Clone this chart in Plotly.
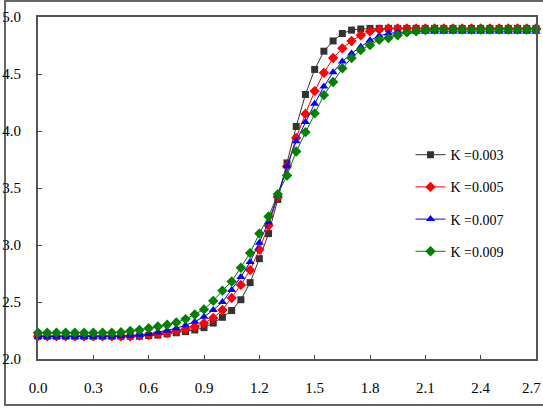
import plotly.graph_objects as go

x_vals = [round(0.05 * i, 2) for i in range(55)]
x_ticks = [0.0, 0.3, 0.6, 0.9, 1.2, 1.5, 1.8, 2.1, 2.4, 2.7]
y_ticks = [2.0, 2.5, 3.0, 3.5, 4.0, 4.5, 5.0]

k003 = [2.20, 2.20, 2.20, 2.20, 2.20, 2.20, 2.20, 2.20, 2.20, 2.20,
        2.20, 2.20, 2.205, 2.21, 2.22, 2.23, 2.24, 2.255, 2.275, 2.315,
        2.366, 2.425, 2.52, 2.67, 2.88, 3.10, 3.40, 3.72, 4.04, 4.32,
        4.54, 4.70, 4.79, 4.855, 4.885, 4.895, 4.90, 4.90, 4.90, 4.90,
        4.90, 4.90, 4.90, 4.90, 4.90, 4.90, 4.90, 4.90, 4.90, 4.90,
        4.90, 4.90, 4.90, 4.90, 4.90]

k005 = [2.20, 2.20, 2.20, 2.20, 2.20, 2.20, 2.20, 2.20, 2.20, 2.20,
        2.20, 2.205, 2.21, 2.22, 2.23, 2.245, 2.262, 2.283, 2.313, 2.36,
        2.43, 2.535, 2.65, 2.78, 2.96, 3.17, 3.42, 3.69, 3.94, 4.15,
        4.35, 4.51, 4.64, 4.725, 4.79, 4.84, 4.875, 4.89, 4.90, 4.90,
        4.90, 4.90, 4.90, 4.90, 4.90, 4.90, 4.90, 4.90, 4.90, 4.90,
        4.90, 4.90, 4.90, 4.90, 4.90]

k007 = [2.195, 2.195, 2.195, 2.195, 2.195, 2.195, 2.195, 2.195, 2.195, 2.20,
        2.205, 2.21, 2.22, 2.235, 2.25, 2.27, 2.296, 2.327, 2.37, 2.43,
        2.50, 2.605, 2.72, 2.85, 3.02, 3.20, 3.44, 3.69, 3.91, 4.08,
        4.24, 4.39, 4.515, 4.61, 4.68, 4.74, 4.795, 4.835, 4.855, 4.865,
        4.87, 4.87, 4.87, 4.87, 4.87, 4.87, 4.87, 4.87, 4.87, 4.87,
        4.87, 4.87, 4.87, 4.87, 4.87]

k009 = [2.23, 2.23, 2.23, 2.23, 2.23, 2.23, 2.23, 2.23, 2.23, 2.235,
        2.245, 2.255, 2.27, 2.285, 2.30, 2.32, 2.35, 2.39, 2.435, 2.51,
        2.60, 2.68, 2.80, 2.93, 3.10, 3.25, 3.445, 3.61, 3.82, 3.99,
        4.155, 4.315, 4.43, 4.55, 4.64, 4.71, 4.755, 4.80, 4.815, 4.84,
        4.865, 4.875, 4.885, 4.89, 4.89, 4.89, 4.89, 4.89, 4.89, 4.89,
        4.89, 4.89, 4.89, 4.89, 4.89]

series = [
    ("K =0.003", k003, "#333333", "square", 7),
    ("K =0.005", k005, "#ff0000", "diamond", 8),
    ("K =0.007", k007, "#0000ff", "triangle-up", 8),
    ("K =0.009", k009, "#008000", "diamond", 8),
]

fig = go.Figure()
for i, (name, ys, color, sym, sz) in enumerate(series):
    fig.add_trace(go.Scatter(
        x=x_vals, y=ys, name=name, mode="lines+markers",
        line=dict(color=color, width=1),
        marker=dict(symbol=sym, size=sz, color=color),
        cliponaxis=False, legendgroup=f"g{i}",
    ))

serif = "Liberation Serif"

fig.update_layout(
    width=543, height=408,
    margin=dict(l=38, r=7, t=17, b=49),
    paper_bgcolor="white", plot_bgcolor="white",
    font=dict(family=serif, size=15, color="#000000"),
    showlegend=True,
    legend=dict(x=0.748, y=0.643, xanchor="left", yanchor="top",
                bgcolor="rgba(0,0,0,0)", borderwidth=0,
                traceorder="grouped", tracegroupgap=11,
                font=dict(family=serif, size=14, color="#000")),
    xaxis=dict(range=[0, 2.7], tickvals=x_ticks[:-1],
               ticktext=[f"{v:.1f}" for v in x_ticks[:-1]],
               ticks="inside", ticklen=4, tickcolor="#444",
               showgrid=False, zeroline=False, automargin=False,
               showline=True, linecolor="#555", linewidth=2, mirror=True,
               ticklabelstandoff=14),
    yaxis=dict(range=[2.0, 5.0], tickvals=y_ticks,
               ticktext=[f"{v:.1f}" for v in y_ticks],
               ticks="inside", ticklen=4, tickcolor="#444",
               showgrid=False, zeroline=False, automargin=False,
               showline=True, linecolor="#555", linewidth=2, mirror=True,
               ticklabelstandoff=12),
    annotations=[dict(x=x_ticks[-1], y=0, xref="x", yref="paper",
                      text=f"{x_ticks[-1]:.1f}", showarrow=False,
                      xanchor="center", yanchor="top", xshift=-5, yshift=-19,
                      font=dict(family=serif, size=15, color="#000"))],
    shapes=[dict(type="rect", xref="paper", yref="paper",
                 x0=(5 - 38) / 498, x1=(548 - 38) / 498,
                 y0=(359 - 405) / 342, y1=(359 - 1) / 342,
                 line=dict(color="#666", width=2), fillcolor="rgba(0,0,0,0)",
                 layer="below")],
)

fig.write_html("out.html", config={"displayModeBar": False},
               post_script="document.body.style.margin='0';document.body.style.overflow='hidden';")
